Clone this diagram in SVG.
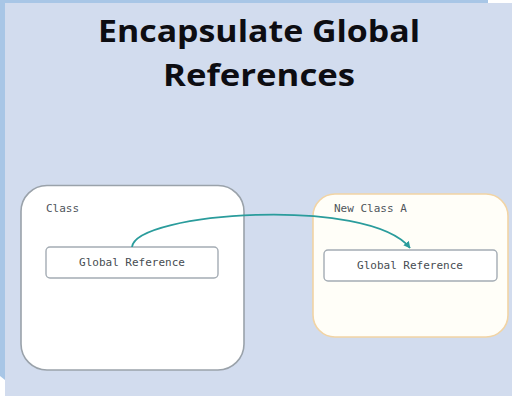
<svg xmlns="http://www.w3.org/2000/svg" width="512" height="396" viewBox="0 0 512 396">
  <defs>
    <style>
      .title { font-family: "Open Sans", "DejaVu Sans", sans-serif; font-weight: bold; font-size: 31px; fill: #0d0d12; text-anchor: middle; }
      .label { font-family: "DejaVu Sans Mono", "Liberation Mono", monospace; font-size: 11px; fill: #50565c; }
      .inner-text { font-family: "DejaVu Sans Mono", "Liberation Mono", monospace; font-size: 11px; fill: #464c52; text-anchor: middle; }
      .inner { fill: #ffffff; stroke: #a4acb4; stroke-width: 1.4; }
      .link { fill: none; stroke: #2a9c9c; stroke-width: 1.8; }
    </style>
    <marker id="arrow" viewBox="0 0 10 10" refX="9" refY="5" markerWidth="7" markerHeight="7" markerUnits="userSpaceOnUse" orient="auto">
      <path d="M0,0 L10,5 L0,10 z" fill="#2a9c9c"/>
    </marker>
  </defs>

  <!-- backdrop -->
  <rect x="0" y="0" width="512" height="396" fill="#d2dcee"/>
  <rect x="0" y="0" width="488" height="3" fill="#a8c6e6"/>
  <rect x="488" y="0" width="24" height="3" fill="#ffffff"/>
  <polygon points="0,0 5,0 5,396 0,396" fill="#a8c6e6"/>
  <polygon points="0,376 5,380 5,396 0,396" fill="#ffffff"/>

  <!-- title -->
  <text class="title" x="259" y="42" textLength="322" lengthAdjust="spacingAndGlyphs">Encapsulate Global</text>
  <text class="title" x="259" y="86" textLength="192" lengthAdjust="spacingAndGlyphs">References</text>

  <!-- class node -->
  <g id="class">
    <rect x="21" y="185.5" width="223" height="184.5" rx="26" fill="#ffffff" stroke="#9aa2aa" stroke-width="1.6"/>
    <text class="label" x="46" y="212">Class</text>
    <g id="class-global-reference">
      <rect class="inner" x="46" y="247" width="172" height="31" rx="4"/>
      <text class="inner-text" x="132" y="266">Global Reference</text>
    </g>
  </g>

  <!-- new class node -->
  <g id="new-class-a">
    <rect x="313" y="194" width="195" height="143" rx="22" fill="#fffef8" stroke="#f2d4a4" stroke-width="1.6"/>
    <text class="label" x="334" y="212">New Class A</text>
    <g id="new-class-global-reference">
      <rect class="inner" x="324" y="250" width="173" height="31" rx="4"/>
      <text class="inner-text" x="410" y="269">Global Reference</text>
    </g>
  </g>

  <!-- connectors -->
  <g id="connectors">
    <path class="link" d="M132,247 C136,212 368,196 410,248" marker-end="url(#arrow)"/>
  </g>
</svg>
